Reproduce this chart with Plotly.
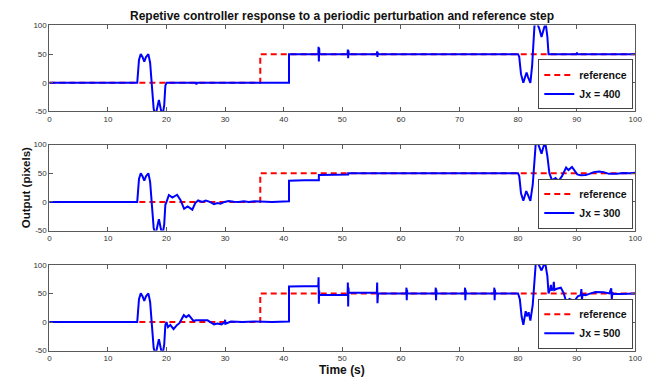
import plotly.graph_objects as go

# ---------------- data ----------------
t_ref = [0, 36, 36, 100]
y_ref = [0, 0, 50, 50]

t_400 = [0, 15.0, 15.3, 15.6, 15.9, 16.2, 16.5, 16.9, 17.2, 17.5, 17.8, 18.1, 18.4, 18.7, 19.0, 19.3, 19.6, 19.8, 20.0,
         25.0, 25.1, 25.2, 40.9, 40.9, 45.9, 45.95, 46.0, 46.05, 46.1, 50.9, 50.95, 51.0, 51.05, 51.1,
         55.9, 55.95, 56.0, 56.05, 56.1, 80.0, 80.2, 80.5, 80.9, 81.2, 81.45, 81.7, 82.1, 82.4, 82.8,
         83.2, 83.6, 84.0, 84.35, 84.7, 85.0, 85.2, 90.0, 90.05, 90.1, 100]
y_400 = [0, 0, 40, 50, 45, 37, 45, 50, 35, 0, -45, -58, -45, -30, -45, -58, -40, -5, 0,
         0, -3, 0, 0, 50, 50, 63, 37, 60, 50, 50, 58, 43, 56, 50,
         50, 55, 45, 53, 50, 50, 45, 15, 0, 10, 18, 10, 0, 30, 100,
         105, 95, 80, 95, 105, 80, 50, 50, 53, 50, 50]

t_300 = [0, 15.0, 15.3, 15.6, 15.9, 16.2, 16.5, 16.9, 17.2, 17.5, 17.8, 18.1, 18.4, 18.7, 19.0, 19.3, 19.6, 19.8, 20.0,
         20.4, 21.0, 21.8, 22.4, 23.0, 23.6, 24.4, 24.9, 25.4, 26.1, 26.7, 27.4, 28.1, 28.7, 29.2, 29.9,
         30.6, 31.5, 32.3, 33.2, 34.0, 35.0, 36.5, 38.0, 40.9, 40.9, 43.5, 46.0, 46.0, 48.5, 51.0, 51.0,
         80.0, 80.2, 80.5, 80.9, 81.15, 81.4, 81.7, 82.1, 82.5, 83.0, 83.3, 83.65, 84.0, 84.3, 84.6, 85.0,
         85.35, 85.8, 86.4, 86.9, 87.5, 88.2, 88.6, 89.2, 89.6, 90.1, 90.7, 91.5, 92.2, 92.9, 93.8, 94.6,
         95.5, 96.8, 98.0, 99.1, 100]
y_300 = [0, 0, 40, 50, 45, 37, 45, 50, 35, 0, -45, -58, -45, -30, -45, -58, -40, -5, 0,
         12, 7.5, 12.5, 3, -12, -8, -13.5, -2, 2.5, 0, 2.5, 0, -4, -2, -3, 0,
         1.5, 0.5, 0, 1, 0, 1, 0.5, 0, 1, 37, 38, 38, 47, 47, 48, 50,
         50, 45, 15, 2, 12, 19, 12, 2, 30, 100, 105, 95, 84, 95, 105, 80,
         50, 37.5, 41.5, 36.5, 45, 60, 55.6, 61, 56, 48, 46.5, 47, 49, 52, 53, 52,
         49, 49, 50.5, 50, 51]

t_500 = [0, 15.0, 15.3, 15.6, 15.9, 16.2, 16.5, 16.9, 17.2, 17.5, 17.8, 18.1, 18.4, 18.7, 19.0, 19.3, 19.6, 19.8, 20.0,
         20.25, 20.65, 21.2, 21.8, 22.2, 22.95, 23.35, 23.8, 24.6, 25.0, 25.6, 26.4, 27.0, 28.1, 28.7, 29.4,
         29.95, 30.0, 30.05, 31.0, 33.0, 35.0, 38.0, 40.9, 40.9,
         45.9, 45.95, 46.0, 46.05, 46.1, 48.5,
         50.9, 50.95, 51.0, 51.05, 51.1,
         55.9, 55.95, 56.0, 56.05, 56.1,
         60.9, 60.95, 61.0, 61.05, 61.1,
         65.9, 65.95, 66.0, 66.05, 66.1,
         70.9, 70.95, 71.0, 71.05, 71.1,
         75.9, 75.95, 76.0, 76.05, 76.1,
         80.0, 80.3, 80.6, 80.9, 81.3, 81.5, 81.8, 82.1, 82.5, 83.0, 83.3, 83.65, 84.0, 84.3, 84.6, 85.0,
         85.2, 85.5, 85.6, 85.7, 86.0, 86.1, 86.2, 86.6, 87.3, 87.8, 88.2, 88.8, 89.6, 90.2, 90.7,
         90.8, 90.9, 91.0, 91.5, 92.4, 93.2, 94.6, 95.6, 95.9, 96.0, 96.1, 96.2, 97.5, 99.0, 100]
y_500 = [0, 0, 40, 50, 45, 37, 45, 50, 35, 0, -45, -58, -45, -30, -45, -58, -40, -5, 0,
         -9, -5, -12.5, -5, -2, 12, 8.5, 12, 2, 3, 3, 2, 3, -4, -2.5, -4,
         0, 4, -3, 1, 0, 1, 0, 1, 62,
         63, 78, 32, 55, 47, 47,
         47, 69, 27, 60, 51,
         51, 69, 33, 58, 50,
         50, 60, 38, 56, 50,
         50, 60, 38, 56, 50,
         50, 60, 38, 56, 50,
         50, 60, 38, 56, 50,
         50, 40, 10, -5, 19, 10, 17, 2.4, 30, 100, 105, 97, 90, 97, 105, 80,
         50, 58, 65, 55, 58, 70, 56, 58, 60, 50, 36, 40.5, 36, 45, 47,
         57.5, 39, 48, 47, 50, 52.4, 52, 50, 59, 40.5, 52, 49, 49, 49, 50]

panels = [("Jx = 400", t_400, y_400), ("Jx = 300", t_300, y_300), ("Jx = 500", t_500, y_500)]
x_ticks = list(range(0, 101, 10))
y_ticks = [-50, 0, 50, 100]
y_ticktext = ["-50", "0", "50", "100"]

# ---------------- layout geometry ----------------
W, H = 661, 384
x_dom = [48 / W, 642 / W]
y_doms = [[1 - 110 / H, 1 - 22 / H], [1 - 232 / H, 1 - 144 / H], [1 - 355 / H, 1 - 267 / H]]

FONT = "Liberation Sans, Arial, Helvetica, sans-serif"
frame = "#5a5a5a"

fig = go.Figure()
layout = dict(
    width=W, height=H, margin=dict(l=0, r=0, t=0, b=0),
    paper_bgcolor="white", plot_bgcolor="white", showlegend=True,
    font=dict(family=FONT, color="#222"),
)

for i, (name, tt, yy) in enumerate(panels):
    sfx = "" if i == 0 else str(i + 1)
    leg = "legend" if i == 0 else "legend" + str(i + 1)
    fig.add_trace(go.Scatter(x=t_ref, y=y_ref, mode="lines", name="reference",
                             line=dict(color="#ff0000", width=2, dash="6px,4px"),
                             xaxis="x" + sfx, yaxis="y" + sfx, legend=leg))
    fig.add_trace(go.Scatter(x=tt, y=yy, mode="lines", name=name,
                             line=dict(color="#0000ff", width=2),
                             xaxis="x" + sfx, yaxis="y" + sfx, legend=leg))
    layout["xaxis" + sfx] = dict(
        domain=x_dom, anchor="y" + sfx, range=[0, 100], tickvals=x_ticks,
        ticks="inside", ticklen=4, tickcolor=frame, showline=True, linecolor=frame,
        linewidth=1, mirror="ticks", showgrid=False, zeroline=False,
        tickfont=dict(family=FONT, size=8, color="#333"),
    )
    layout["yaxis" + sfx] = dict(
        domain=y_doms[i], anchor="x" + sfx, range=[-50, 100], tickvals=y_ticks,
        ticktext=y_ticktext, ticks="inside", ticklen=4, tickcolor=frame,
        showline=True, linecolor=frame, linewidth=1, mirror="ticks",
        showgrid=False, zeroline=False,
        tickfont=dict(family=FONT, size=8, color="#333"),
    )
    layout[leg] = dict(
        x=640 / W, xanchor="right", y=y_doms[i][0] + 2 / H, yanchor="bottom",
        bgcolor="white", bordercolor="#444", borderwidth=1,
        font=dict(family=FONT, size=10.5, color="#111", weight="bold"),
        itemwidth=30, tracegroupgap=0,
    )

layout["annotations"] = [
    dict(text="<b>Repetive controller response to a periodic perturbation and reference step</b>",
         x=345 / W, y=1 - 12 / H, xref="paper", yref="paper", showarrow=False,
         font=dict(family=FONT, size=12, color="#111"), xanchor="center", yanchor="middle"),
    dict(text="<b>Time (s)</b>", x=345 / W, y=1 - 375 / H, xref="paper", yref="paper",
         showarrow=False, font=dict(family=FONT, size=12, color="#111"),
         xanchor="center", yanchor="middle"),
    dict(text="<b>Output (pixels)</b>", x=24 / W, y=1 - 188 / H, xref="paper", yref="paper",
         showarrow=False, textangle=-90, font=dict(family=FONT, size=11.5, color="#111"),
         xanchor="center", yanchor="middle"),
]

fig.update_layout(**layout)
fig.write_html("out.html")
